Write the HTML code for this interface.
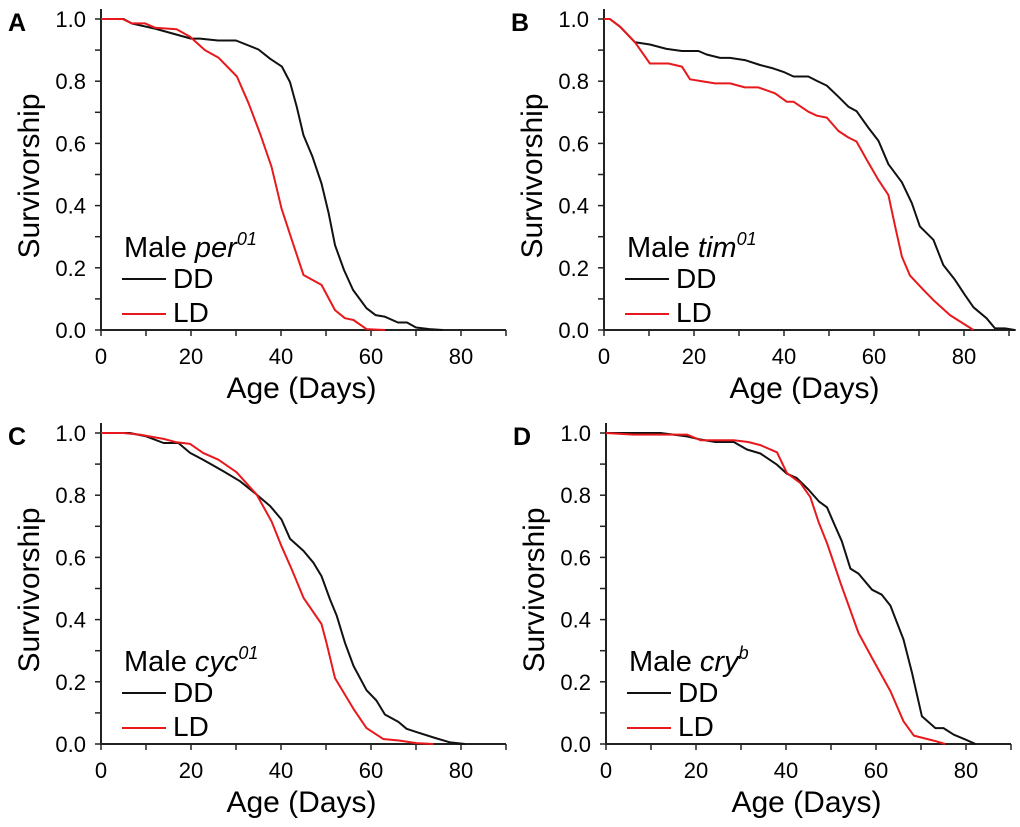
<!DOCTYPE html>
<html><head><meta charset="utf-8"><style>
body{margin:0;background:#fff;}
svg{display:block;font-family:"Liberation Sans",Arial,sans-serif;}
</style></head><body>
<svg id="fig" width="1020" height="827" viewBox="0 0 1020 827"></svg>
<script>
const xTicks=[0,20,40,60,80];
const yTicks=[0,0.2,0.4,0.6,0.8,1.0];
const yTickLabels=["0.0","0.2","0.4","0.6","0.8","1.0"];
const panelLetters=["A","B","C","D"];
const genotypes=["per","tim","cyc","cry"];
const superscripts=["01","01","01","b"];
const aDDx=[0,5,7,12,20,22,26,30,35,37.6,40.2,42,43.5,45,47,49,50.6,52,54,56,59,61,63,66,68,70,73,76];
const aDDy=[1,1,.985,.969,.937,.937,.931,.931,.902,.872,.847,.797,.717,.626,.557,.471,.375,.273,.193,.129,.070,.048,.043,.024,.024,.008,.003,0];
const aLDx=[0,4.8,6.8,9.8,12,16.8,19.8,23.1,26.1,30.2,32.8,35.3,37.9,40.1,42.4,45,49,52,54.2,56.1,59,63.1];
const aLDy=[1,1,.986,.986,.972,.967,.943,.900,.876,.815,.729,.633,.525,.391,.290,.177,.145,.064,.038,.032,.003,0];
const bDDx=[0,1.3,3.6,6.9,10.2,13.9,17.3,21,22.8,25.8,28,31.3,34.7,37.6,39.9,42.1,45.4,47.3,49.5,52.1,54.3,56.1,58.7,61,63.2,66.2,68.4,70.2,73.2,75.4,78,80.2,82.1,85,86.9,89.1,91.3];
const bDDy=[1,1,.975,.925,.918,.904,.897,.897,.886,.875,.875,.868,.852,.841,.830,.815,.815,.801,.786,.750,.718,.704,.651,.608,.533,.475,.408,.333,.290,.209,.161,.113,.073,.038,.005,.005,0];
const bLDx=[0,1.3,3.6,6.9,10.2,14.3,17.3,19.1,22.1,24.7,28,31.3,34.3,38,40.6,42.1,45.4,47.3,49.5,52.1,54.3,56.1,58.4,61,63.2,64.7,66.2,68,71,73.2,76.9,82.1];
const bLDy=[1,1,.975,.925,.857,.857,.847,.806,.799,.793,.793,.780,.780,.761,.734,.734,.702,.689,.683,.640,.619,.606,.547,.482,.434,.332,.236,.175,.129,.096,.048,0];
const cDDx=[0,6.4,10.1,13.9,17.2,19.8,22.7,27.2,30.9,34.6,37.6,40.1,42,45,47.2,49,50.9,52.4,54.2,56.1,59,61.2,63.1,66.1,67.9,70.2,73.9,77.6,80.9];
const cDDy=[1,1,.989,.968,.968,.936,.914,.877,.845,.802,.765,.722,.660,.621,.583,.540,.465,.412,.326,.251,.173,.140,.095,.071,.049,.038,.021,.005,0];
const cLDx=[0,5,8.6,13.9,16.8,19.8,22.7,26.1,30.1,34.6,37.9,40.1,42.4,45,49,50.1,52,56.1,59,62.7,66.4,70.1,73.9];
const cLDy=[1,1,.995,.981,.970,.965,.936,.914,.874,.802,.716,.636,.561,.470,.386,.325,.212,.113,.051,.016,.011,.003,0];
const dDDx=[0,12.1,18,21,24.3,28.4,31.3,34.3,38,40.2,42.4,45,47.3,49.1,50.6,52.4,54.3,56.1,59.1,61.3,63.2,66.1,68,70.2,73.2,75,77.3,79.9,82.1];
const dDDy=[1,1,.989,.979,.971,.971,.947,.934,.898,.869,.855,.818,.780,.761,.711,.652,.564,.548,.496,.480,.445,.336,.229,.089,.051,.051,.030,.014,0];
const dLDx=[0,6.1,18,21,28.4,31.6,34.3,38,40.2,43.2,45.4,47.3,49.1,52.1,56.1,59.1,63.2,66.1,68.4,72.8,75.4];
const dLDy=[1,.995,.995,.977,.977,.971,.961,.938,.871,.839,.794,.711,.646,.518,.357,.277,.170,.073,.027,.011,0];

const panels=[
 {x0:101,y1:19,ox:0,oy:0,xmax:90,dd:[aDDx,aDDy],ld:[aLDx,aLDy]},
 {x0:604,y1:19,ox:503,oy:0,xmax:91.5,dd:[bDDx,bDDy],ld:[bLDx,bLDy]},
 {x0:101,y1:433,ox:0,oy:414,xmax:90,dd:[cDDx,cDDy],ld:[cLDx,cLDy]},
 {x0:606,y1:433,ox:505,oy:414,xmax:90,dd:[dDDx,dDDy],ld:[dLDx,dLDy]}
];
const NS="http://www.w3.org/2000/svg";
const svg=document.getElementById('fig');
function mk(tag,attrs,parent,text){const e=document.createElementNS(NS,tag);for(const k in attrs)e.setAttribute(k,attrs[k]);if(text!==undefined)e.textContent=text;parent.appendChild(e);return e;}
panels.forEach((p,i)=>{
 const g=mk('g',{},svg);
 
 
 const sx=d=>p.x0+d*4.5;
 const sy=v=>p.y1+311*(1-v);
 const yb=sy(0);
 const lt=mk('text',{x:8+p.ox,y:31+p.oy,'font-size':25,'font-weight':'bold'},g,panelLetters[i]);
 
 
 const ax=mk('path',{d:`M${p.x0} ${p.y1-10} V${yb} H${sx(p.xmax)}`,stroke:'#222',fill:'none','stroke-width':2},g);
 
 
 for(let v=0;v<=10;v++){mk('line',{x1:p.x0-6,x2:p.x0,y1:sy(v/10),y2:sy(v/10),stroke:'#222','stroke-width':1.5},g);}
 for(let d=0;d<=Math.floor(p.xmax/10)*10;d+=10){mk('line',{x1:sx(d),x2:sx(d),y1:yb,y2:yb+6,stroke:'#222','stroke-width':1.5},g);}
 yTicks.forEach((v,k)=>{const t=mk('text',{x:p.x0-15,y:sy(v)+8,'font-size':22,'text-anchor':'end'},g,yTickLabels[k]);
  
  });
 xTicks.forEach(d=>{const t=mk('text',{x:sx(d),y:yb+34,'font-size':22,'text-anchor':'middle'},g,String(d));
  
  });
 const xt=mk('text',{x:sx(45)-2,y:yb+68,'font-size':30,'text-anchor':'middle'},g,'Age (Days)');
 
 
 const yt=mk('text',{x:0,y:0,'font-size':30,'text-anchor':'middle',transform:`translate(${39+p.ox},${p.y1+157}) rotate(-90)`},g,'Survivorship');
 
 
 [[p.dd,'#111','dd'],[p.ld,'#e8191c','ld']].forEach(([s,c,n])=>{
  const d=s[0].map((x,k)=>(k?'L':'M')+sx(x).toFixed(1)+' '+sy(s[1][k]).toFixed(1)).join(' ');
  const pa=mk('path',{d:d,stroke:c,fill:'none','stroke-width':2,'stroke-linejoin':'round'},g);
  
  
 });
 const lx=p.x0+21, ly=p.y1+238;
 const tt=mk('text',{x:lx+2,y:ly,'font-size':29},g);
 
 
 mk('tspan',{},tt,'Male ');
 mk('tspan',{'font-style':'italic'},tt,genotypes[i]);
 mk('tspan',{'font-style':'italic','font-size':18,dy:-12},tt,superscripts[i]);
 [['DD','#111',ly+31,ly+22],['LD','#e8191c',ly+65,ly+57]].forEach(([lab,c,yy,ll])=>{
  const le=mk('g',{},g);
  
  
  mk('line',{x1:lx,x2:lx+44,y1:ll,y2:ll,stroke:c,'stroke-width':2},le);
  mk('text',{x:lx+51,y:yy,'font-size':28},le,lab);
 });
});
</script>
</body></html>
